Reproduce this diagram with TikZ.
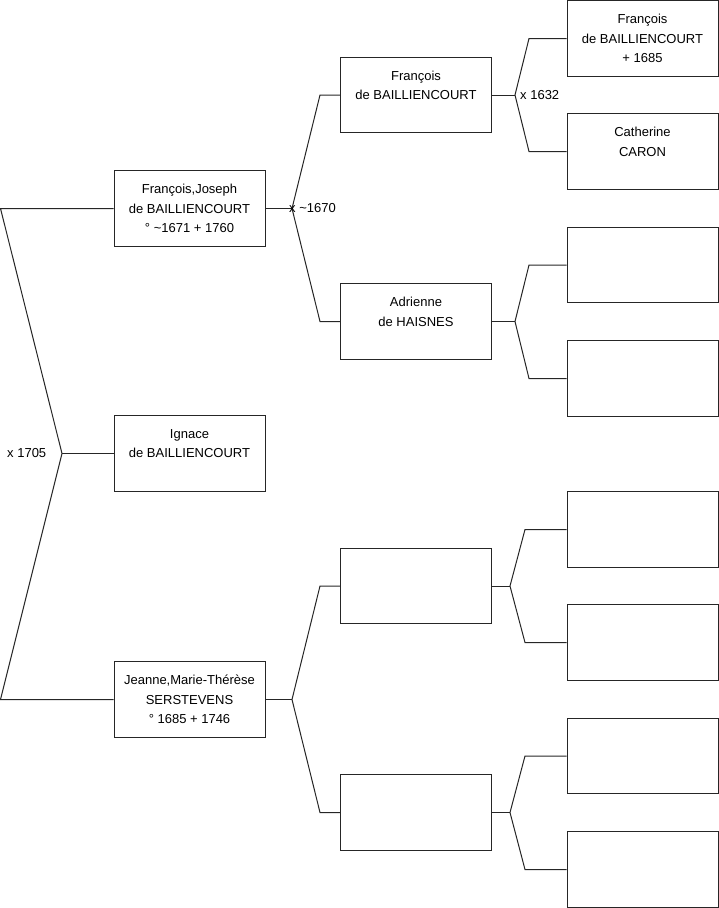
\documentclass[tikz,border=0pt]{standalone}
\usepackage{fontspec}
\setmainfont{Liberation Sans}
\begin{document}
\begin{tikzpicture}[x=1pt,y=-1pt,
  person/.style={draw=black!85,line width=1pt,rectangle,minimum width=151pt,minimum height=75.5pt,inner sep=0pt,align=center,font=\fontsize{13}{19.5}\selectfont},
  link/.style={draw=black!85,line width=1pt},
  union/.style={inner sep=0pt,anchor=west,font=\fontsize{13}{19.5}\selectfont}]
\useasboundingbox (0,0) rectangle (719,908);
% left column
\node[person] (L1) at (189.5,208.5) {François,Joseph\\de BAILLIENCOURT\\° \textasciitilde1671 + 1760};
\node[person] (L2) at (189.5,453.5) {Ignace\\de BAILLIENCOURT\\\mbox{}};
\node[person] (L3) at (189.5,699.5) {Jeanne,Marie-Thérèse\\SERSTEVENS\\° 1685 + 1746};
% middle column
\node[person] (M1) at (416,95) {François\\de BAILLIENCOURT\\\mbox{}};
\node[person] (M2) at (416,321.5) {Adrienne\\de HAISNES\\\mbox{}};
\node[person] (M3) at (416,586) {};
\node[person] (M4) at (416,812.5) {};
% right column
\node[person] (R1) at (642.5,38.5) {François\\de BAILLIENCOURT\\+ 1685};
\node[person] (R2) at (642.5,151.5) {Catherine\\CARON\\\mbox{}};
\node[person] (R3) at (642.5,265) {};
\node[person] (R4) at (642.5,378.5) {};
\node[person] (R5) at (642.5,529.5) {};
\node[person] (R6) at (642.5,642.5) {};
\node[person] (R7) at (642.5,756) {};
\node[person] (R8) at (642.5,869.5) {};
% coordinates
\coordinate (c0a) at (0.5,208.5);
\coordinate (a0) at (62,453.5);
\coordinate (c0b) at (0.5,699.5);
\coordinate (a1) at (292,208.5);
\coordinate (b1a) at (320,95);
\coordinate (b1b) at (320,321.5);
\coordinate (a2) at (515,95);
\coordinate (b2a) at (529,38.5);
\coordinate (b2b) at (529,151.5);
\coordinate (a3) at (515,321.5);
\coordinate (b3a) at (529,265);
\coordinate (b3b) at (529,378.5);
\coordinate (a4) at (292,699.5);
\coordinate (b4a) at (320,586);
\coordinate (b4b) at (320,812.5);
\coordinate (a5) at (510,586);
\coordinate (b5a) at (525,529.5);
\coordinate (b5b) at (525,642.5);
\coordinate (a6) at (510,812.5);
\coordinate (b6a) at (525,756);
\coordinate (b6b) at (525,869.5);
% connectors
\draw[link] (L1.west) -- (c0a) -- (a0) -- (c0b) -- (L3.west);
\draw[link] (a0) -- (L2.west);
\draw[link] (L1.east) -- (a1);
\draw[link] (M1.west) -- (b1a) -- (a1) -- (b1b) -- (M2.west);
\draw[link] (M1.east) -- (a2);
\draw[link] (R1.west) -- (b2a) -- (a2) -- (b2b) -- (R2.west);
\draw[link] (M2.east) -- (a3);
\draw[link] (R3.west) -- (b3a) -- (a3) -- (b3b) -- (R4.west);
\draw[link] (L3.east) -- (a4);
\draw[link] (M3.west) -- (b4a) -- (a4) -- (b4b) -- (M4.west);
\draw[link] (M3.east) -- (a5);
\draw[link] (R5.west) -- (b5a) -- (a5) -- (b5b) -- (R6.west);
\draw[link] (M4.east) -- (a6);
\draw[link] (R7.west) -- (b6a) -- (a6) -- (b6b) -- (R8.west);
% union labels
\node[union] (u0) at (7,453.5) {x 1705};
\node[union] (u1) at (289,208.5) {x \textasciitilde1670};
\node[union] (u2) at (520,95) {x 1632};
\end{tikzpicture}
\end{document}
